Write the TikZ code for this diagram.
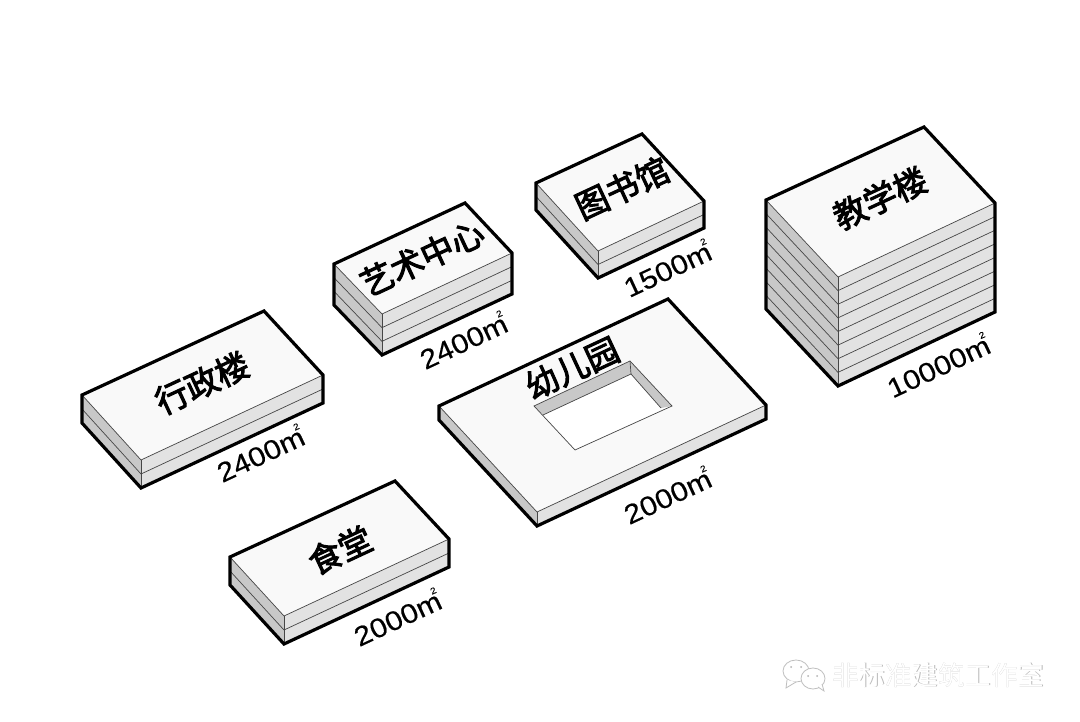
\documentclass[tikz,border=0pt]{standalone}
\usepackage{fontspec}
\setmainfont[FakeStretch=1.13, FakeBold=0.4]{Liberation Sans}
\newfontfamily\cjk{Noto Sans CJK SC}
\newfontfamily\cjktitle[FakeBold=3]{Noto Sans CJK SC}
\definecolor{topface}{RGB}{249,249,249}
\definecolor{leftface}{RGB}{200,200,200}
\definecolor{rightface}{RGB}{226,226,226}
\definecolor{floorline}{RGB}{70,70,70}
\tikzset{
  outline/.style={line width=3.2pt, line join=miter, black},
  floor/.style={line width=0.7pt, floorline},
  title/.style={font=\cjktitle\fontsize{33}{33}\selectfont, rotate=25, inner sep=0pt},
  area/.style={font=\fontsize{27}{27}\selectfont, rotate=25, inner sep=0pt},
  bubble/.style={draw=gray!50, fill=white, line width=0.8pt}
}
\newcommand{\sqm}{m\kern-0.2em\raisebox{0.62em}{\fontsize{9}{9}\selectfont 2}}
\begin{document}
\begin{tikzpicture}[x=1pt, y=-1pt]
  \useasboundingbox[fill=white] (0,0) rectangle (1080,722);
  % Blocos: esquerda / fundo / direita / frente / altura / pisos
  \foreach \lx/\ly/\bx/\by/\rx/\ry/\fx/\fy/\h/\n in {
    82/395/264/311/323/375/141/460/28/2,
    230/557/395/481/449/539/284/616/28/2,
    439/406/668/299/766/405/537/512/14/1,
    766/200/924/127/995/203/838/277/109/8,
    334/264/465/203/512/253/382/314/41/3,
    536/183/642/134/704/201/598/251/27/2}
  {
    \fill[topface] (\lx,\ly) -- (\bx,\by) -- (\rx,\ry) -- (\fx,\fy) -- cycle;
    \fill[leftface] (\lx,\ly) -- (\fx,\fy) -- (\fx,\fy+\h) -- (\lx,\ly+\h) -- cycle;
    \fill[rightface] (\fx,\fy) -- (\rx,\ry) -- (\rx,\ry+\h) -- (\fx,\fy+\h) -- cycle;
    \draw[floor] (\lx,\ly) -- (\fx,\fy) -- (\rx,\ry);
    \draw[floor] (\fx,\fy) -- (\fx,\fy+\h);
    % Linhas dos pisos
    \foreach \k in {1,...,\n}
      \draw[floor] (\lx,{\ly+\k*\h/\n}) -- (\fx,{\fy+\k*\h/\n}) -- (\rx,{\ry+\k*\h/\n});
    \draw[outline] (\lx,\ly) -- (\bx,\by) -- (\rx,\ry) -- (\rx,\ry+\h)
      -- (\fx,\fy+\h) -- (\lx,\ly+\h) -- cycle;
  }
  % Patio do jardim de infancia
  \fill[white] (534,406) -- (630,361) -- (672,406) -- (575,450) -- cycle;
  \fill[leftface] (534,406) -- (630,361) -- (631,374) -- (543,415) -- cycle;
  \fill[leftface] (630,361) -- (672,406) -- (661,408) -- (631,374) -- cycle;
  \draw[floor] (534,406) -- (630,361) -- (672,406) -- (575,450) -- cycle;
  \draw[floor] (543,415) -- (631,374) -- (661,408);
  \draw[floor] (630,361) -- (631,374);
  % Nomes
  \foreach \x/\y/\nome/\texto in {
    202/383/xingzheng/行政楼, 340/550/shitang/食堂, 572/368/youer/幼儿园,
    880/198/jiaoxue/教学楼, 422/258/yishu/艺术中心, 622/188/tushu/图书馆}
    \node[title] (\nome) at (\x,\y) {\texto};
  % Areas
  \foreach \x/\y/\nome/\texto in {
    260/453/aX/2400, 397/617/aS/2000, 667/495/aY/2000,
    938/365/aJ/10000, 463/340/aA/2400, 667/268/aT/1500}
    \node[area] (\nome) at (\x,\y) {\texto\sqm};
  % Marca de agua
  \draw[bubble] (796,671) ellipse (13 and 11);
  \draw[bubble] (787,680) -- (786,688) -- (796,682);
  \draw[bubble] (813,678.5) ellipse (12 and 10.5);
  \draw[bubble] (818,687) -- (824,691) -- (822,684);
  \fill[gray!60] (791,667) circle (1) (801,667) circle (1) (808,676) circle (1) (817,676) circle (1);
  \node[font=\cjk\fontsize{26.5}{26.5}\selectfont, text=gray!55, inner sep=0pt] (sombra) at (938.6,675.6) {非标准建筑工作室};
  \node[font=\cjk\fontsize{26.5}{26.5}\selectfont, text=white, inner sep=0pt] (marca) at (938,675) {非标准建筑工作室};
\end{tikzpicture}
\end{document}
